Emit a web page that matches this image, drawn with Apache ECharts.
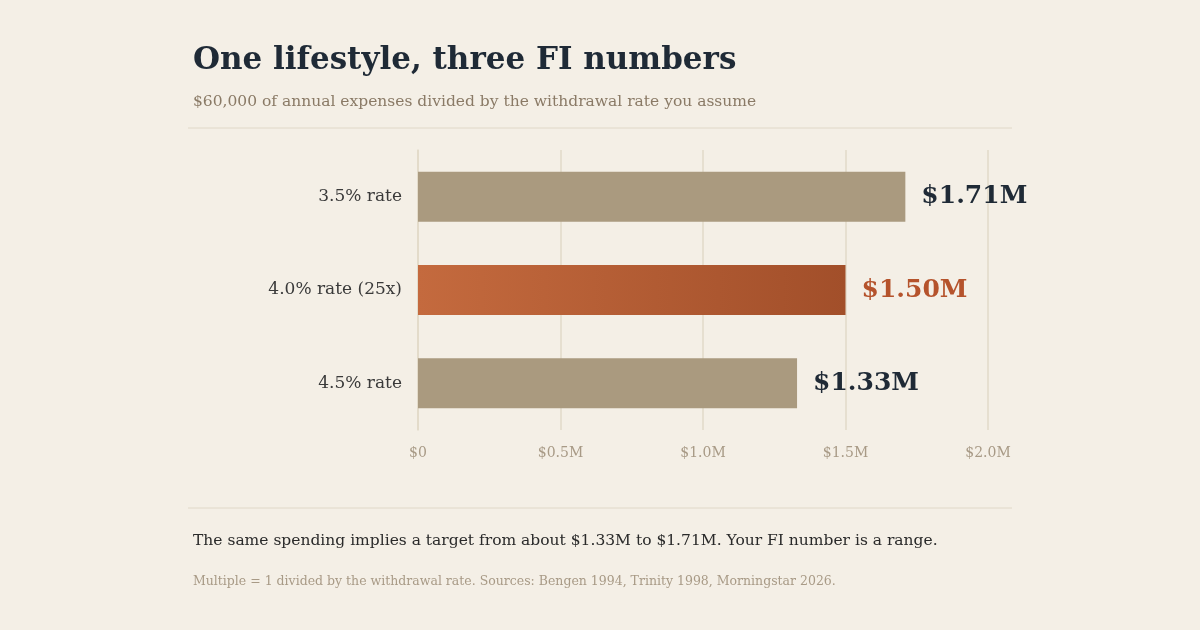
<!DOCTYPE html>
<html><head><meta charset="utf-8">
<script src="https://cdn.jsdelivr.net/npm/echarts@6/dist/echarts.min.js"></script>
<style>html,body{margin:0;padding:0;background:#f4efe6;}#c{width:1200px;height:630px;}</style>
</head><body><div id="c"></div>
<script>
const categories = ["4.5% rate", "4.0% rate (25x)", "3.5% rate"];
const values = [1.33, 1.50, 1.71];
const valueLabels = ["$1.33M", "$1.50M", "$1.71M"];
const tickLabels = {0: "$0", 0.5: "$0.5M", 1: "$1.0M", 1.5: "$1.5M", 2: "$2.0M"};
const F = "'DejaVu Serif', Georgia, serif";
const chart = echarts.init(document.getElementById('c'));
const hi = 1;
chart.setOption({
  backgroundColor: '#f4efe6',
  animation: false,
  title: [
    {text: 'One lifestyle, three FI numbers', left: 188, top: 40, textStyle: {fontFamily: F, fontSize: 31, fontWeight: 'bold', color: '#1f2a36'}},
    {text: '$60,000 of annual expenses divided by the withdrawal rate you assume', left: 188, top: 89, textStyle: {fontFamily: F, fontSize: 15.5, fontWeight: 'normal', color: '#8a7a66'}},
    {text: 'The same spending implies a target from about $1.33M to $1.71M. Your FI number is a range.', left: 188, top: 528, textStyle: {fontFamily: F, fontSize: 15.5, fontWeight: 'normal', color: '#2a2a2a'}},
    {text: 'Multiple = 1 divided by the withdrawal rate. Sources: Bengen 1994, Trinity 1998, Morningstar 2026.', left: 188, top: 570, textStyle: {fontFamily: F, fontSize: 12.5, fontWeight: 'normal', color: '#a89a86'}}
  ],
  graphic: [
    {type: 'line', shape: {x1: 188, y1: 128, x2: 1012, y2: 128}, style: {stroke: '#e0d8c8', lineWidth: 1}},
    {type: 'line', shape: {x1: 188, y1: 508, x2: 1012, y2: 508}, style: {stroke: '#e0d8c8', lineWidth: 1}}
  ],
  grid: {left: 418, right: 212, top: 150, bottom: 200},
  xAxis: {type: 'value', min: 0, max: 2, interval: 0.5,
    axisLine: {show: false}, axisTick: {show: false},
    splitLine: {lineStyle: {color: '#e2dac9', width: 1.5}},
    axisLabel: {margin: 16, fontFamily: F, fontSize: 14, color: '#a89a86', formatter: v => tickLabels[v]}},
  yAxis: {type: 'category', data: categories,
    axisLine: {show: true, lineStyle: {color: '#e2dac9', width: 1.5}}, axisTick: {show: false},
    axisLabel: {margin: 16, fontFamily: F, fontSize: 17, color: '#3a3a3a'}},
  series: [{type: 'bar', barWidth: 50,
    data: values.map((v, i) => ({value: v,
      itemStyle: {color: i === hi ? new echarts.graphic.LinearGradient(0,0,1,0,[{offset:0,color:'#c46a3e'},{offset:1,color:'#a24f2a'}]) : '#aa9a7f'},
      label: {color: i === hi ? '#b5532c' : '#1f2a36'}})),
    label: {show: true, position: 'right', distance: 16, fontFamily: F, fontSize: 25, fontWeight: 'bold',
      formatter: p => valueLabels[p.dataIndex]}
  }]
});
</script></body></html>
